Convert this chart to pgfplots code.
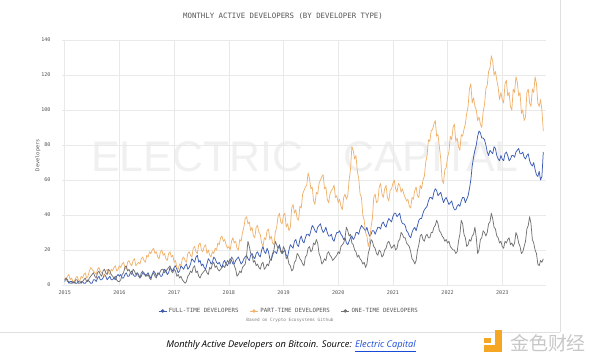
\documentclass[border=0pt]{standalone}
\usepackage{pgfplots}
\pgfplotsset{compat=1.18}
\usepackage{pgfplotstable}
\usepackage{fontspec}
\setmainfont{Open Sans}
\newfontfamily\monofont{DejaVu Sans Mono}
\newfontfamily\cjk{Noto Sans CJK SC}
\newfontfamily\wmfont{Liberation Sans}
\definecolor{ftblue}{HTML}{3D5DB5}
\definecolor{ptorange}{HTML}{F0B36E}
\definecolor{otgray}{HTML}{737373}
\definecolor{gridc}{HTML}{E9E9E9}
\definecolor{textc}{HTML}{555555}
\definecolor{linkblue}{HTML}{1A4BD6}
\definecolor{logoy}{HTML}{F5A623}

\pgfplotstableread{
year ft pt ot
2015.000 2 4 3
2015.025 4 3 4
2015.050 3 5 2
2015.075 1 6 2
2015.100 2 3 1
2015.125 2 4 1
2015.150 1 2 2
2015.175 2 2 1
2015.200 1 4 3
2015.225 1 5 3
2015.250 2 3 1
2015.275 2 2 1
2015.300 1 5 2
2015.325 2 4 2
2015.350 1 6 3
2015.375 1 7 4
2015.400 2 4 2
2015.425 3 5 2
2015.450 2 8 4
2015.475 1 10 5
2015.500 1 9 6
2015.525 3 8 7
2015.550 3 7 5
2015.575 2 6 4
2015.600 4 9 7
2015.625 5 10 8
2015.650 3 8 6
2015.675 3 7 5
2015.700 4 6 8
2015.725 6 5 9
2015.750 5 8 7
2015.775 3 9 6
2015.800 4 7 9
2015.825 5 6 8
2015.850 3 9 6
2015.875 3 8 5
2015.900 4 10 4
2015.925 3 11 5
2015.950 5 8 3
2015.975 6 9 2
2016.000 5 11 2
2016.025 6 10 3
2016.050 4 12 6
2016.075 4 13 7
2016.100 6 10 10
2016.125 7 9 11
2016.150 5 13 8
2016.175 5 14 9
2016.200 7 12 7
2016.225 8 11 6
2016.250 6 14 9
2016.275 5 15 8
2016.300 5 11 6
2016.325 7 12 7
2016.350 6 13 5
2016.375 4 12 4
2016.400 5 15 7
2016.425 7 16 8
2016.450 7 14 6
2016.475 5 13 6
2016.500 6 17 5
2016.525 7 16 6
2016.550 5 19 4
2016.575 4 18 3
2016.600 6 20 6
2016.625 8 21 7
2016.650 7 18 5
2016.675 5 19 4
2016.700 6 16 7
2016.725 7 15 6
2016.750 5 19 8
2016.775 5 20 9
2016.800 7 17 9
2016.825 9 18 7
2016.850 8 15 8
2016.875 6 14 9
2016.900 7 18 10
2016.925 10 19 11
2016.950 9 16 8
2016.975 8 17 7
2017.000 10 13 9
2017.025 11 14 8
2017.050 9 10 5
2017.075 7 9 6
2017.100 8 12 4
2017.125 11 11 5
2017.150 10 15 3
2017.175 9 16 2
2017.200 11 14 1
2017.225 12 13 2
2017.250 9 18 5
2017.275 10 19 6
2017.300 12 17 8
2017.325 15 16 7
2017.350 14 21 10
2017.375 13 22 11
2017.400 16 19 7
2017.425 17 18 8
2017.450 13 23 5
2017.475 14 24 4
2017.500 11 20 6
2017.525 12 19 7
2017.550 10 22 8
2017.575 9 23 9
2017.600 12 18 7
2017.625 15 20 6
2017.650 14 17 10
2017.675 12 16 9
2017.700 13 19 12
2017.725 16 18 13
2017.750 15 21 10
2017.775 13 20 11
2017.800 12 24 9
2017.825 13 23 8
2017.850 11 27 9
2017.875 10 28 10
2017.900 13 25 11
2017.925 14 26 10
2017.950 12 23 12
2017.975 11 21 14
2018.000 13 22 13
2018.025 15 20 12
2018.050 14 25 16
2018.075 12 27 15
2018.100 12 24 11
2018.125 14 25 9
2018.150 15 21 5
2018.175 16 20 6
2018.200 14 26 8
2018.225 12 25 7
2018.250 13 30 10
2018.275 15 33 11
2018.300 16 38 12
2018.325 17 39 17
2018.350 15 35 25
2018.375 14 36 22
2018.400 17 31 18
2018.425 18 33 17
2018.450 16 28 13
2018.475 15 27 14
2018.500 18 33 11
2018.525 19 34 12
2018.550 17 30 10
2018.575 16 29 9
2018.600 20 24 12
2018.625 22 22 13
2018.650 19 27 9
2018.675 18 26 10
2018.700 21 31 12
2018.725 19 32 11
2018.750 15 26 14
2018.775 14 28 15
2018.800 17 24 18
2018.825 19 23 20
2018.850 19 30 25
2018.875 18 33 23
2018.900 21 39 21
2018.925 23 41 22
2018.950 20 36 19
2018.975 18 35 18
2019.000 19 40 22
2019.025 20 41 20
2019.050 17 33 15
2019.075 16 35 16
2019.100 20 31 12
2019.125 23 33 11
2019.150 22 44 8
2019.175 21 46 9
2019.200 25 41 13
2019.225 26 43 14
2019.250 23 38 18
2019.275 22 37 17
2019.300 26 45 15
2019.325 28 44 14
2019.350 25 52 12
2019.375 24 54 11
2019.400 27 56 16
2019.425 29 57 17
2019.450 29 64 21
2019.475 28 61 22
2019.500 31 55 19
2019.525 34 56 20
2019.550 33 48 24
2019.575 31 46 23
2019.600 30 53 26
2019.625 33 52 24
2019.650 34 58 18
2019.675 35 60 16
2019.700 32 62 12
2019.725 30 63 13
2019.750 31 55 15
2019.775 33 56 14
2019.800 30 49 18
2019.825 28 47 19
2019.850 28 52 17
2019.875 29 54 16
2019.900 26 55 14
2019.925 25 57 15
2019.950 28 50 16
2019.975 30 51 17
2020.000 30 47 19
2020.025 31 49 18
2020.050 29 45 22
2020.075 28 43 23
2020.100 26 50 24
2020.125 27 52 27
2020.150 24 49 33
2020.175 23 51 31
2020.200 25 60 28
2020.225 27 66 29
2020.250 28 79 24
2020.275 26 77 23
2020.300 27 72 20
2020.325 30 74 19
2020.350 30 65 16
2020.375 29 61 17
2020.400 32 52 15
2020.425 34 50 14
2020.450 33 40 12
2020.475 32 37 13
2020.500 31 30 10
2020.525 33 28 12
2020.550 30 22 18
2020.575 28 25 21
2020.600 29 33 26
2020.625 31 38 25
2020.650 31 50 22
2020.675 29 52 21
2020.700 31 47 18
2020.725 33 48 17
2020.750 33 56 20
2020.775 32 58 19
2020.800 35 52 16
2020.825 36 50 17
2020.850 34 55 20
2020.875 33 57 21
2020.900 36 50 24
2020.925 38 48 25
2020.950 37 54 23
2020.975 36 55 21
2021.000 39 58 22
2021.025 41 60 23
2021.050 41 55 20
2021.075 39 53 21
2021.100 40 58 25
2021.125 41 57 26
2021.150 37 53 30
2021.175 35 55 29
2021.200 35 52 27
2021.225 34 50 27
2021.250 31 48 24
2021.275 30 49 23
2021.300 28 45 22
2021.325 27 44 19
2021.350 30 50 15
2021.375 32 49 14
2021.400 33 54 12
2021.425 31 56 14
2021.450 34 51 20
2021.475 37 50 23
2021.500 38 57 28
2021.525 38 55 29
2021.550 41 60 26
2021.575 43 62 25
2021.600 44 70 28
2021.625 45 74 29
2021.650 48 83 27
2021.675 50 82 27
2021.700 50 88 30
2021.725 49 89 30
2021.750 53 92 33
2021.775 55 94 34
2021.800 54 85 37
2021.825 51 86 35
2021.850 52 79 31
2021.875 53 72 30
2021.900 50 60 28
2021.925 47 58 27
2021.950 49 66 25
2021.975 50 67 26
2022.000 48 73 24
2022.025 46 76 25
2022.050 47 85 22
2022.075 48 83 21
2022.100 45 90 20
2022.125 43 92 20
2022.150 43 82 18
2022.175 45 84 19
2022.200 46 79 25
2022.225 45 77 29
2022.250 48 86 37
2022.275 50 85 35
2022.300 50 89 29
2022.325 47 92 27
2022.350 49 98 22
2022.375 51 102 23
2022.400 55 112 26
2022.425 60 115 25
2022.450 68 104 28
2022.475 73 107 29
2022.500 77 102 33
2022.525 80 100 27
2022.550 85 94 18
2022.575 88 96 20
2022.600 87 92 26
2022.625 84 90 27
2022.650 84 99 31
2022.675 83 103 30
2022.700 80 112 28
2022.725 76 114 30
2022.750 74 122 35
2022.775 77 124 36
2022.800 76 131 41
2022.825 75 128 38
2022.850 79 120 33
2022.875 78 122 32
2022.900 74 117 28
2022.925 72 113 27
2022.950 71 106 24
2022.975 74 110 25
2023.000 72 106 22
2023.025 71 104 21
2023.050 75 115 25
2023.075 76 117 24
2023.100 74 108 26
2023.125 71 110 27
2023.150 72 102 23
2023.175 74 100 24
2023.200 74 112 22
2023.225 73 110 24
2023.250 76 119 30
2023.275 77 116 28
2023.300 78 108 24
2023.325 75 110 22
2023.350 75 98 18
2023.375 76 100 19
2023.400 73 94 22
2023.425 72 96 25
2023.450 74 110 32
2023.475 75 112 34
2023.500 71 104 39
2023.525 69 102 35
2023.550 68 112 26
2023.575 70 110 24
2023.600 66 119 20
2023.625 63 115 18
2023.650 62 104 12
2023.675 65 102 11
2023.700 60 106 14
2023.725 62 100 13
2023.750 76 88 15
}\devdata

\begin{document}
\begin{tikzpicture}[x=1bp,y=1bp]
\path[use as bounding box] (0,0) rectangle (600,362);
% watermark
\node[font=\wmfont\fontsize{43}{43}\selectfont, text=black!6, anchor=center] at (305,205) {ELECTRIC\hspace{40bp}CAPITAL};
% title
\node[font=\monofont\fontsize{7.4}{9}\selectfont, text=textc] at (283,346) {MONTHLY ACTIVE DEVELOPERS (BY DEVELOPER TYPE)};
\begin{axis}[
  at={(62bp,77bp)}, anchor=south west,
  scale only axis, width=484bp, height=245bp,
  xmin=2014.95, xmax=2023.80, ymin=0, ymax=140,
  xtick={2015,2016,2017,2018,2019,2020,2021,2022,2023},
  xticklabels={2015,2016,2017,2018,2019,2020,2021,2022,2023},
  ytick={0,20,40,60,80,100,120,140},
  yticklabels={0,20,40,60,80,100,120,140},
  /pgf/number format/assume math mode=true,
  ticklabel style={font=\monofont\fontsize{5.1}{6}\selectfont, text=textc},
  xticklabel style={yshift=-2bp},
  yticklabel style={xshift=-8bp},
  axis line style={draw=none},
  major tick length=0pt,
  grid=major,
  major grid style={gridc, line width=0.5pt},
  ylabel={Developers},
  ylabel style={font=\monofont\fontsize{5.3}{6}\selectfont, text=textc, at={(axis description cs:-0.05,0.53)}, anchor=center},
  legend columns=3,
  legend style={at={(axis description cs:0.469,-0.106)}, anchor=center, draw=none, fill=none,
    font=\monofont\fontsize{5.8}{7}\selectfont, text=textc,
    /tikz/every even column/.append style={column sep=9bp}},
  legend image code/.code={\draw[#1, line width=0.8pt] (0bp,0bp) -- (8bp,0bp); \fill[#1] (4bp,0bp) circle (1.4bp);},
]
\addplot[ftblue, line width=0.75pt, line join=round] table[x=year, y=ft] {\devdata};
\addlegendentry{FULL-TIME DEVELOPERS}
\addplot[ptorange, line width=0.75pt, line join=round] table[x=year, y=pt] {\devdata};
\addlegendentry{PART-TIME DEVELOPERS}
\addplot[otgray, line width=0.75pt, line join=round] table[x=year, y=ot] {\devdata};
\addlegendentry{ONE-TIME DEVELOPERS}
\end{axis}
% source note
\node[font=\monofont\fontsize{4.4}{5}\selectfont, text=black!50] at (290,42) {Based on Crypto Ecosystems Github};
% separators
\draw[black!12, line width=0.6pt] (0,30) -- (560,30);
\draw[black!12, line width=0.6pt] (560,30) -- (560,362);
% caption
\node[font=\fontsize{9.3}{11}\selectfont\itshape, text=black] at (291,16) {Monthly Active Developers on Bitcoin. Source: \textcolor{linkblue}{\underline{Electric Capital}}};
% logo
\fill[logoy] (484,19) rectangle (491,24);
\fill[logoy] (495,10) rectangle (502,32);
\fill[logoy] (484,10) rectangle (502,17);
\node[font=\cjk\fontsize{19}{19}\selectfont, text=black!22] at (548,19) {金色财经};
\end{tikzpicture}
\end{document}
